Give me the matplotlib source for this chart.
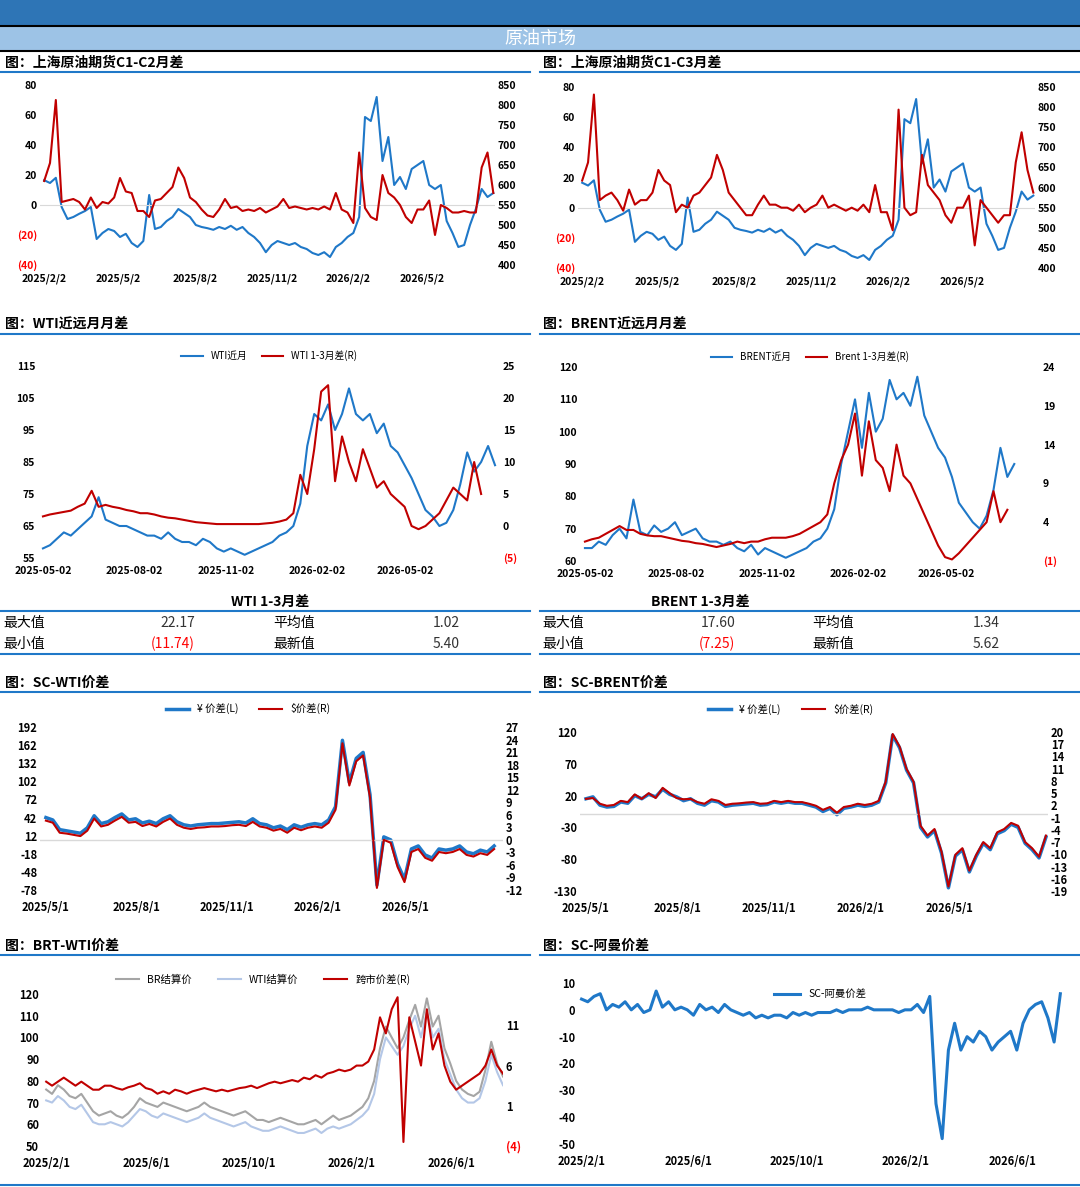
import numpy as np
import pandas as pd
import matplotlib
matplotlib.use('Agg')
import matplotlib.pyplot as plt
from matplotlib.lines import Line2D

plt.rcParams['font.family'] = ['Noto Sans CJK SC', 'DejaVu Sans']
plt.rcParams['axes.unicode_minus'] = False

W, H = 1080, 1187
BLUE = '#1F78C8'
RED = '#C00000'

# ---- data (weekly points) ----
sc_price = [612, 605, 618, 545, 515, 520, 528, 535, 545, 465, 480, 490, 485, 470, 478, 455,
            445, 460, 575, 490, 495, 510, 520, 540, 530, 520, 500, 495, 492, 488, 495, 490,
            498, 488, 495, 480, 470, 455, 432, 450, 460, 455, 450, 455, 445, 440, 430, 425,
            432, 420, 445, 455, 470, 480, 520, 770, 760, 820, 660, 720, 600, 620, 590, 640,
            650, 660, 600, 590, 600, 510, 480, 445, 450, 500, 540, 590, 570, 580]
c1c2 = [16, 28, 70, 2, 3, 4, 2, -3, 5, -2, 2, 1, 5, 18, 9, 8, -4, -4, -8, 3, 4, 8, 12, 25,
        18, 5, 2, -3, -7, -8, -3, 4, -2, -1, -4, -3, -4, -2, -5, -3, -1, 4, -2, -1, -2, -3,
        -2, -3, -1, -3, 8, -3, -5, -12, 35, -2, -8, -10, 20, 8, 5, 0, -8, -12, -3, -3, 3,
        -20, 0, -2, -5, -5, -4, -5, -5, 25, 35, 8]
c1c3 = [18, 30, 75, 5, 8, 10, 5, -2, 12, 2, 5, 5, 10, 25, 18, 15, -3, 2, 0, 8, 10, 15, 20,
        35, 25, 10, 5, 0, -5, -5, 2, 8, 2, 2, 0, 0, -2, 2, -3, 0, 2, 8, 0, 2, 0, -2, 0, -2,
        2, -3, 15, -3, -3, -15, 65, 0, -5, -3, 35, 15, 10, 5, -5, -10, 0, 0, 8, -25, 5, 0,
        -5, -10, -5, -5, 30, 50, 25, 10]

wti_front = [58, 59, 61, 63, 62, 64, 66, 68, 74, 67, 66, 65, 65, 64, 63, 62, 62, 61, 63, 61,
             60, 60, 59, 61, 60, 58, 57, 58, 57, 56, 57, 58, 59, 60, 62, 63, 65, 72, 90, 100,
             98, 103, 95, 100, 108, 100, 98, 100, 94, 97, 90, 88, 84, 80, 75, 70, 68, 65, 66,
             70, 78, 88, 82, 85, 90, 84]
wti_13 = [1.5, 1.8, 2, 2.2, 2.4, 3, 3.5, 5.5, 3, 3.3, 3, 2.8, 2.5, 2.3, 2, 2, 1.8, 1.5, 1.3,
          1.2, 1, 0.8, 0.6, 0.5, 0.4, 0.3, 0.3, 0.3, 0.3, 0.3, 0.3, 0.3, 0.4, 0.5, 0.7, 1, 2,
          8, 5, 12, 21, 22, 7, 14, 10, 7, 12, 9, 6, 7, 5, 4, 3, 0, -0.5, 0, 1, 2, 4, 6, 5, 4,
          10, 5]
brent_front = [64, 64, 66, 65, 68, 70, 67, 79, 69, 68, 71, 69, 70, 72, 68, 69, 70, 67, 66, 66,
               65, 66, 64, 63, 65, 62, 64, 63, 62, 61, 62, 63, 64, 66, 67, 70, 76, 90, 100, 110,
               95, 112, 100, 104, 116, 110, 112, 108, 117, 105, 100, 95, 92, 86, 78, 75, 72, 70,
               74, 82, 95, 86, 90]
brent_13 = [1.5, 1.8, 2, 2.5, 3, 3.5, 3, 3, 2.5, 2.3, 2.2, 2.2, 2, 1.8, 1.6, 1.5, 1.3, 1.2, 1,
            0.8, 1, 1.2, 1.5, 1.3, 1.5, 1.5, 1.8, 2, 2, 2, 2.2, 2.5, 3, 3.5, 4, 5, 9, 12, 14, 18,
            10, 17, 12, 11, 8, 14, 10, 9, 7, 5, 3, 1, -0.5, -0.8, 0, 1, 2, 3, 4, 8, 4, 5.6]

scwti_cny = [42, 38, 22, 20, 18, 16, 25, 45, 32, 35, 42, 48, 38, 40, 33, 36, 32, 40, 45, 35,
             30, 28, 30, 31, 32, 32, 33, 34, 35, 33, 40, 32, 30, 25, 28, 22, 30, 26, 30, 32,
             30, 38, 60, 170, 100, 140, 150, 80, -70, 10, 5, -35, -60, -10, -5, -20, -25, -10,
             -12, -10, -5, -15, -18, -12, -15, -5]
scwti_usd = [4.6, 4.1, 1.7, 1.5, 1.2, 0.9, 2.2, 5.1, 3.2, 3.6, 4.6, 5.5, 4.1, 4.3, 3.3, 3.8,
             3.2, 4.3, 5.1, 3.6, 2.9, 2.6, 2.9, 3.0, 3.2, 3.2, 3.3, 3.5, 3.6, 3.3, 4.3, 3.2,
             2.9, 2.2, 2.6, 1.7, 2.9, 2.3, 2.9, 3.2, 2.9, 4.1, 7.2, 23.1, 13, 18.8, 20.2, 10.1,
             -11.5, 0, -0.7, -6.5, -10.1, -2.9, -2.2, -4.3, -5, -2.9, -3.2, -2.9, -2.2, -3.6,
             -4.0, -3.2, -3.6, -2.2]
scbrent_cny = [15, 18, 5, 2, 3, 10, 8, 20, 15, 22, 18, 30, 22, 18, 12, 15, 8, 5, 12, 10, 3, 5,
               6, 7, 8, 5, 6, 10, 8, 10, 8, 8, 5, 2, -5, 0, -10, 0, 2, 5, 3, 5, 10, 40, 115, 95,
               60, 40, -30, -45, -35, -70, -125, -75, -65, -100, -75, -55, -65, -40, -35, -25,
               -30, -55, -65, -78, -45]
scbrent_usd = [3.6, 3.8, 2.4, 1.9, 2.1, 3.1, 2.8, 4.7, 3.6, 5.0, 3.8, 6.3, 5.0, 3.8, 3.5, 3.6,
               2.8, 2.4, 3.5, 3.1, 2.1, 2.4, 2.5, 2.7, 2.8, 2.4, 2.5, 3.1, 2.8, 3.1, 2.8, 2.8,
               2.4, 1.9, 0.9, 1.6, 0.2, 1.6, 1.9, 2.4, 2.1, 2.4, 3.1, 7.8, 19.5, 16.4, 10.9, 7.8,
               -3.0, -5.4, -3.8, -9.3, -17.9, -10.1, -8.5, -14.0, -10.1, -7.0, -8.5, -4.6, -3.8,
               -2.3, -3.0, -7.0, -8.5, -10.6, -5.4]

br_settle = [76, 74, 78, 76, 73, 72, 74, 70, 66, 64, 65, 66, 64, 63, 65, 68, 72, 70, 69, 68,
             70, 69, 68, 67, 66, 67, 68, 70, 68, 67, 66, 65, 64, 65, 66, 64, 62, 62, 61, 62,
             63, 62, 61, 60, 60, 61, 62, 60, 62, 64, 62, 63, 64, 66, 68, 72, 80, 95, 105, 100,
             95, 100, 108, 115, 105, 118, 105, 110, 95, 88, 80, 76, 74, 73, 75, 85, 98, 88, 82]
wti_settle = [71, 70, 73, 71, 68, 67, 69, 65, 61, 60, 60, 61, 60, 59, 61, 64, 67, 66, 64, 63,
              65, 64, 63, 62, 61, 62, 63, 65, 63, 62, 61, 60, 59, 60, 61, 59, 58, 57, 57, 58,
              59, 58, 57, 56, 56, 57, 58, 56, 58, 59, 58, 59, 60, 62, 64, 67, 74, 90, 100, 96,
              92, 96, 104, 110, 100, 112, 100, 104, 90, 83, 76, 72, 70, 70, 72, 80, 92, 84, 78]
cross_spread = [4, 3.5, 4, 4.5, 4, 3.5, 4, 3.5, 3, 3, 3.5, 3.5, 3.2, 3, 3.3, 3.5, 3.8, 3.2, 3,
                2.5, 2.8, 2.5, 3, 2.8, 2.5, 2.8, 3, 3.2, 3, 2.8, 3, 2.8, 3, 3.2, 3.3, 3.5, 3.2,
                3.5, 3.8, 4, 3.8, 4, 4.2, 4, 4.5, 4.3, 4.8, 4.5, 5, 5.2, 5.5, 5.3, 5.5, 6, 6, 6.5,
                8, 12, 10, 13, 14.5, -3.5, 12, 9, 6, 13, 8, 10, 6, 4, 3, 3.5, 4, 4.5, 5, 6, 8, 6, 5]
sc_oman = [4, 3, 5, 6, 0, 2, 1, 3, 0, 2, -1, 0, 7, 1, 3, 0, 1, 0, -2, 2, 0, 1, -1, 2, 0, -1,
           -2, -1, -3, -2, -3, -2, -2, -3, -1, -2, -1, -2, -1, -1, -1, 0, -1, 0, 0, 0, 1, 0, 0,
           0, 0, -1, 0, 0, 2, -1, 5, -35, -48, -15, -5, -15, -10, -12, -8, -10, -15, -12, -10,
           -8, -15, -5, 0, 2, 3, -3, -12, 6]

table_rows = {
    'WTI 1-3月差': [('最大值', '22.17', '平均值', '1.02'), ('最小值', '(11.74)', '最新值', '5.40')],
    'BRENT 1-3月差': [('最大值', '17.60', '平均值', '1.34'), ('最小值', '(7.25)', '最新值', '5.62')],
}


def weeks(start, vals):
    return pd.date_range(start, periods=len(vals), freq='7D')


fig = plt.figure(figsize=(W / 100, H / 100), dpi=100)


def box(x0, y0, x1, y1):
    return fig.add_axes([x0 / W, 1 - y1 / H, (x1 - x0) / W, (y1 - y0) / H])


def hline(y, x0, x1, color=BLUE, lw=1.5):
    fig.add_artist(Line2D([x0 / W, x1 / W], [1 - y / H, 1 - y / H], color=color, lw=lw))


def ftext(x, y, s, **kw):
    fig.text(x / W, 1 - y / H, s, **kw)


# header bars
hdr = box(0, 0, W, 26)
hdr.set_facecolor('#2E75B6'); hdr.set_xticks([]); hdr.set_yticks([])
for s in hdr.spines.values():
    s.set_visible(False)
hdr2 = box(0, 27, W, 50)
hdr2.set_facecolor('#9DC3E6'); hdr2.set_xticks([]); hdr2.set_yticks([])
for s in hdr2.spines.values():
    s.set_visible(False)
hline(26, 0, W, 'black', 1.5)
hline(51, 0, W, 'black', 1.5)
ftext(540, 39, '原油市场', ha='center', va='center', color='white', fontsize=13)

# section titles
for y, l, r in [(63, '图：上海原油期货C1-C2月差', '图：上海原油期货C1-C3月差'),
                (325, '图：WTI近远月月差', '图：BRENT近远月月差'),
                (683, '图：SC-WTI价差', '图：SC-BRENT价差'),
                (946, '图：BRT-WTI价差', '图：SC-阿曼价差')]:
    ftext(5, y, l, fontsize=10, fontweight='bold', va='center')
    ftext(543, y, r, fontsize=10, fontweight='bold', va='center')
    hline(y + 9, 0, 530)
    hline(y + 9, 540, W)
hline(1185, 0, W)


def paren(v):
    v = int(round(v))
    return '(%d)' % -v if v < 0 else str(v)


def style(ax, fs=7.5):
    for s in ax.spines.values():
        s.set_visible(False)
    ax.tick_params(length=0, labelsize=fs, pad=2)
    for lab in ax.get_xticklabels() + ax.get_yticklabels():
        lab.set_fontweight('bold')


def red_neg(ax):
    for lab in ax.get_yticklabels():
        if lab.get_text().startswith('('):
            lab.set_color('red')


def date_ticks(ax, dates, labels):
    ax.set_xticks(pd.to_datetime(dates))
    ax.set_xticklabels(labels)


# ---- row 1 ----
for (x0, x1, y0, y1), red in [((40, 495, 85, 265), c1c2), ((578, 1035, 87, 268), c1c3)]:
    ax = box(x0, y0, x1, y1)
    ax2 = ax.twinx()
    ax.axhline(0, color='#D9D9D9', lw=0.8)
    ax2.plot(weeks('2025-02-02', sc_price), sc_price, color=BLUE, lw=1.5)
    ax.plot(weeks('2025-02-02', red), red, color=RED, lw=1.5)
    ax.set_zorder(ax2.get_zorder() + 1); ax.patch.set_visible(False)
    ax.set_ylim(-40, 80); ax.set_yticks(range(-40, 81, 20))
    ax.set_yticklabels([paren(v) for v in range(-40, 81, 20)])
    ax2.set_ylim(400, 850); ax2.set_yticks(range(400, 851, 50))
    ax.set_xlim(pd.Timestamp('2025-01-28'), pd.Timestamp('2026-07-28'))
    date_ticks(ax, ['2025-02-02', '2025-05-02', '2025-08-02', '2025-11-02', '2026-02-02', '2026-05-02'],
               ['2025/2/2', '2025/5/2', '2025/8/2', '2025/11/2', '2026/2/2', '2026/5/2'])
    style(ax); style(ax2); red_neg(ax)
    ax.tick_params(axis='x', pad=6)

# ---- row 2 ----
cfg2 = [((38, 500, 366, 558), wti_front, wti_13, 'WTI近月', 'WTI 1-3月差(R)', (55, 115), range(55, 116, 10),
         (-5, 25), range(-5, 26, 5)),
        ((580, 1040, 367, 561), brent_front, brent_13, 'BRENT近月', 'Brent 1-3月差(R)', (60, 120),
         range(60, 121, 10), (-1, 24), range(-1, 25, 5))]
for (x0, x1, y0, y1), fr, sp, l1, l2, yl, yt, yr, yrt in cfg2:
    ax = box(x0, y0, x1, y1)
    ax2 = ax.twinx()
    a, = ax.plot(weeks('2025-05-02', fr), fr, color=BLUE, lw=1.5)
    b, = ax2.plot(weeks('2025-05-02', sp), sp, color=RED, lw=1.5)
    ax.set_ylim(*yl); ax.set_yticks(list(yt))
    ax2.set_ylim(*yr); ax2.set_yticks(list(yrt))
    ax2.set_yticklabels([paren(v) for v in yrt])
    ax.set_xlim(pd.Timestamp('2025-04-27'), pd.Timestamp('2026-08-05'))
    date_ticks(ax, ['2025-05-02', '2025-08-02', '2025-11-02', '2026-02-02', '2026-05-02'],
               ['2025-05-02', '2025-08-02', '2025-11-02', '2026-02-02', '2026-05-02'])
    style(ax); style(ax2); red_neg(ax2)
    ax.tick_params(axis='x', pad=6)
    ax.legend([a, b], [l1, l2], loc='lower center', bbox_to_anchor=(0.5, 0.98), ncol=2,
              frameon=False, fontsize=7, handlelength=2.2, columnspacing=1.5)

# ---- table ----
for (title, rows), xs, tx in zip(table_rows.items(), [(3, 195, 273, 460), (542, 735, 812, 1000)],
                                 [270, 700]):
    ftext(tx, 603, title, ha='center', va='center', fontsize=10, fontweight='bold')
    for i, row in enumerate(rows):
        y = 623 + i * 21
        ftext(xs[0], y, row[0], va='center', fontsize=10)
        ftext(xs[1], y, row[1], va='center', ha='right', fontsize=10,
              color='red' if row[1].startswith('(') else '#333333')
        ftext(xs[2], y, row[2], va='center', fontsize=10)
        ftext(xs[3], y, row[3], va='center', ha='right', fontsize=10, color='#333333')
hline(611, 0, 530); hline(611, 540, W)
hline(654, 0, 530); hline(654, 540, W)

# ---- row 3 ----
cfg3 = [((40, 503, 727, 890), scwti_cny, scwti_usd, (-78, 192), range(-78, 193, 30), (-12, 27),
         range(-12, 28, 3), (0.45, 1.02)),
        ((580, 1048, 732, 891), scbrent_cny, scbrent_usd, (-130, 120), range(-130, 121, 50), (-19, 20),
         range(-19, 21, 3), (0.45, 1.05))]
for (x0, x1, y0, y1), cny, usd, yl, yt, yr, yrt, anchor in cfg3:
    ax = box(x0, y0, x1, y1)
    ax2 = ax.twinx()
    ax2.axhline(0, color='#D9D9D9', lw=1)
    a, = ax.plot(weeks('2025-05-01', cny), cny, color=BLUE, lw=2.5)
    b, = ax2.plot(weeks('2025-05-01', usd), usd, color=RED, lw=1.5)
    ax.set_ylim(*yl); ax.set_yticks(list(yt))
    ax2.set_ylim(*yr); ax2.set_yticks(list(yrt))
    ax.set_xlim(pd.Timestamp('2025-04-25'), pd.Timestamp('2026-08-08'))
    date_ticks(ax, ['2025-05-01', '2025-08-01', '2025-11-01', '2026-02-01', '2026-05-01'],
               ['2025/5/1', '2025/8/1', '2025/11/1', '2026/2/1', '2026/5/1'])
    style(ax, 8); style(ax2, 8)
    ax.tick_params(axis='x', pad=8)
    ax.legend([a, b], ['¥ 价差(L)', '$价差(R)'], loc='lower center', bbox_to_anchor=anchor, ncol=2,
              frameon=False, fontsize=7.5, handlelength=2.2, columnspacing=2)

# ---- row 4 left ----
ax = box(42, 994, 503, 1146)
ax2 = ax.twinx()
a, = ax.plot(weeks('2025-02-01', br_settle), br_settle, color='#A5A5A5', lw=1.5)
b, = ax.plot(weeks('2025-02-01', wti_settle), wti_settle, color='#B4C7E7', lw=1.5)
c, = ax2.plot(weeks('2025-02-01', cross_spread), cross_spread, color=RED, lw=1.5)
ax.set_ylim(50, 120); ax.set_yticks(range(50, 121, 10))
ax2.set_ylim(-4, 14.9); ax2.set_yticks([-4, 1, 6, 11])
ax2.set_yticklabels(['(4)', '1', '6', '11'])
ax.set_xlim(pd.Timestamp('2025-01-27'), pd.Timestamp('2026-08-01'))
date_ticks(ax, ['2025-02-01', '2025-06-01', '2025-10-01', '2026-02-01', '2026-06-01'],
           ['2025/2/1', '2025/6/1', '2025/10/1', '2026/2/1', '2026/6/1'])
style(ax, 8); style(ax2, 8)
ax2.get_yticklabels()[0].set_color('red')
ax.tick_params(axis='x', pad=8)
ax.legend([a, b, c], ['BR结算价', 'WTI结算价', '跨市价差(R)'], loc='lower center',
          bbox_to_anchor=(0.48, 1.0), ncol=3, frameon=False, fontsize=7.5, handlelength=2.2,
          columnspacing=2.5)

# ---- row 4 right ----
ax = box(578, 983, 1063, 1144)
a, = ax.plot(weeks('2025-02-01', sc_oman), sc_oman, color=BLUE, lw=2.2)
ax.set_ylim(-50, 10); ax.set_yticks(range(-50, 11, 10))
ax.set_xlim(pd.Timestamp('2025-01-28'), pd.Timestamp('2026-07-28'))
date_ticks(ax, ['2025-02-01', '2025-06-01', '2025-10-01', '2026-02-01', '2026-06-01'],
           ['2025/2/1', '2025/6/1', '2025/10/1', '2026/2/1', '2026/6/1'])
style(ax, 8)
ax.tick_params(axis='x', pad=8)
ax.legend([a], ['SC-阿曼价差'], loc='upper center', bbox_to_anchor=(0.5, 1.02), frameon=False,
          fontsize=7.5, handlelength=2.5)

plt.savefig('out.png', dpi=100)
